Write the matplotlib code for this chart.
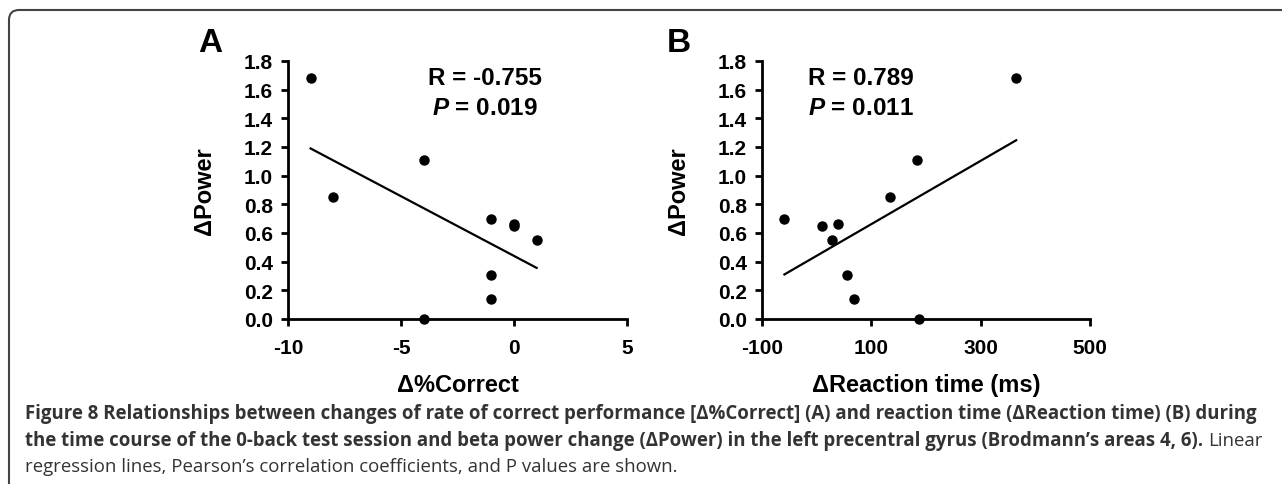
import matplotlib
matplotlib.use("Agg")
import matplotlib.pyplot as plt
import numpy as np
from matplotlib.patches import FancyBboxPatch
from matplotlib.transforms import IdentityTransform

# shared y values (change in beta power)
delta_power = [1.68, 0.85, 1.11, 0.00, 0.70, 0.31, 0.14, 0.66, 0.65, 0.55]
# panel A: change in % correct
delta_correct = [-9, -8, -4, -4, -1, -1, -1, 0, 0, 1]
# panel B: change in reaction time (ms)
delta_rt = [365, 135, 184, 188, -59, 56, 69, 39, 9, 28]

a_ticks = [-10, -5, 0, 5]
b_ticks = [-100, 100, 300, 500]
y_ticks = [0.0, 0.2, 0.4, 0.6, 0.8, 1.0, 1.2, 1.4, 1.6, 1.8]

plt.rcParams["font.family"] = ["Liberation Sans", "DejaVu Sans"]
plt.rcParams["mathtext.fontset"] = "custom"
plt.rcParams["mathtext.it"] = "Liberation Sans:italic:bold"
plt.rcParams["mathtext.rm"] = "Liberation Sans:bold"

W, H = 1282, 485
fig = plt.figure(figsize=(W / 100, H / 100), dpi=100)

def panel(rect, x, y, xticks, xlabel, letter, letter_x, stats, stats_x, stats_ha):
    ax = fig.add_axes(rect)
    ax.plot(x, y, "o", color="black", markersize=6.5, clip_on=False, zorder=3)
    k, b = np.polyfit(x, y, 1)
    xs = np.array([min(x), max(x)])
    ax.plot(xs, k * xs + b, color="black", lw=1.6)
    ax.set_xlim(xticks[0], xticks[-1])
    ax.set_ylim(0, 1.8)
    ax.set_xticks(xticks)
    ax.set_yticks(y_ticks)
    ax.set_xticklabels([str(t) for t in xticks], fontsize=15, fontweight="bold")
    ax.set_yticklabels(["%.1f" % t for t in y_ticks], fontsize=15, fontweight="bold")
    ax.tick_params(direction="out", length=5, width=2, pad=6)
    ax.tick_params(axis="x", pad=9)
    for s in ["top", "right"]:
        ax.spines[s].set_visible(False)
    for s in ["left", "bottom"]:
        ax.spines[s].set_linewidth(2)
    ax.set_xlabel(xlabel, fontsize=17, fontweight="bold", labelpad=11)
    ax.set_ylabel("\u0394Power", fontsize=17, fontweight="bold", labelpad=20)
    fig.text(letter_x / W, 1 - 52 / H, letter, fontsize=24, fontweight="bold",
             va="baseline")
    ax.text(stats_x, 0.935, stats[0], transform=ax.transAxes, fontsize=17.5,
            fontweight="bold", ha=stats_ha, va="center")
    ax.text(stats_x, 0.82, "$\\it{P}$ = " + stats[1], transform=ax.transAxes,
            fontsize=17.5, fontweight="bold", ha=stats_ha, va="center")
    return ax

panel([288 / W, 1 - 320 / H, 339 / W, 258 / H], delta_correct, delta_power, a_ticks,
      "\u0394%Correct", "A", 198, ("R = -0.755", "0.019"), 0.58, "center")
panel([762 / W, 1 - 320 / H, 328 / W, 258 / H], delta_rt, delta_power, b_ticks,
      "\u0394Reaction time (ms)", "B", 667, ("R = 0.789", "0.011"), 0.14, "left")

# frame with rounded top-left corner
frame = FancyBboxPatch((9, -100), 1500, H - 11 + 100,
                       boxstyle="round,pad=0,rounding_size=10",
                       transform=IdentityTransform(), fill=False,
                       edgecolor="#444444", lw=1.5)
fig.patches.append(frame)

cap_font = ["Open Sans", "DejaVu Sans"]
cap_col = "#333333"
fs = 13.4
x0 = 25 / W
fig.text(x0, 1 - 419 / H,
         "Figure 8 Relationships between changes of rate of correct performance "
         "[\u0394%Correct] (A) and reaction time (\u0394Reaction time) (B) during",
         family=cap_font, fontsize=fs, fontweight="bold", color=cap_col, va="baseline")
t2 = fig.text(x0, 1 - 446 / H,
              "the time course of the 0-back test session and beta power change "
              "(\u0394Power) in the left precentral gyrus (Brodmann\u2019s areas 4, 6).",
              family=cap_font, fontsize=fs, fontweight="bold", color=cap_col, va="baseline")
fig.canvas.draw()
bb = t2.get_window_extent()
fig.text(bb.x1 / W + 5 / W, 1 - 446 / H, "Linear", family=cap_font, fontsize=fs,
         color=cap_col, va="baseline")
fig.text(x0, 1 - 472 / H,
         "regression lines, Pearson\u2019s correlation coefficients, and P values are shown.",
         family=cap_font, fontsize=fs, color=cap_col, va="baseline")

fig.savefig("out.png", dpi=100)
